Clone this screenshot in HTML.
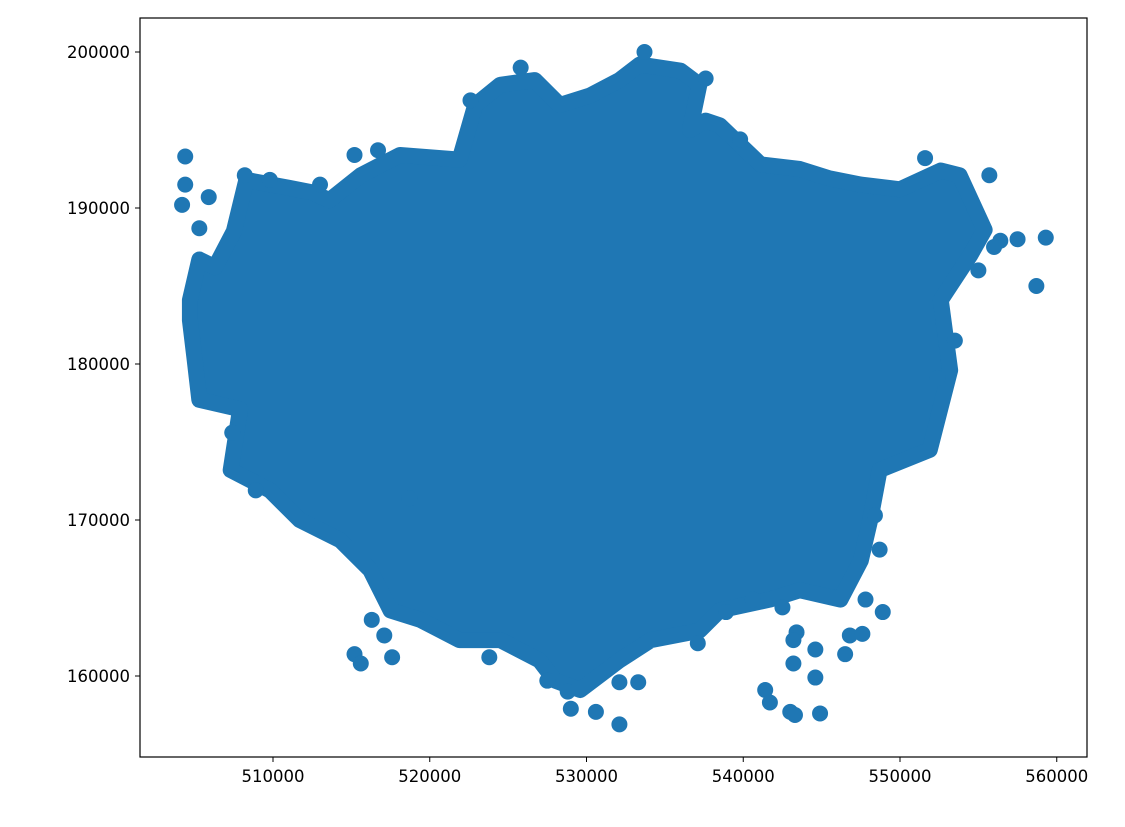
<!DOCTYPE html>
<html><head><meta charset="utf-8">
<style>
html,body{margin:0;padding:0;background:#fff;}
svg text{font-family:"DejaVu Sans","Liberation Sans",sans-serif;font-size:16.5px;fill:#000;}
</style></head>
<body>
<svg id="chart" width="1125" height="822" xmlns="http://www.w3.org/2000/svg">
<g id="marks"></g>
<rect x="140" y="18" width="947" height="739" fill="none" stroke="#000" stroke-width="1.2"/>
<g id="xaxis"></g>
<g id="yaxis"></g>
</svg>
<script>
const xTicks=[510000,520000,530000,540000,550000,560000];
const yTicks=[160000,170000,180000,190000,200000];
const blobX=[504700,505300,506300,507500,508300,511000,512500,513600,515600,518100,521900,522900,524500,526700,528300,530200,532100,533400,536000,537200,536600,537600,538500,541100,543600,545500,547500,550000,552600,553800,555400,554500,552600,553200,551900,548700,548100,547500,546200,543600,541700,538500,537200,534100,532100,529600,528000,527000,524500,521900,519400,517500,516200,514300,511700,509800,507300,507900,505300,505000,504700];
const blobY=[184100,186700,186200,188500,191800,191300,191000,190500,192100,193400,193100,196600,197900,198200,196600,197200,198200,199200,198800,197900,195000,195600,195300,192800,192500,191900,191500,191200,192400,192100,188600,187000,184100,179600,174500,173200,170000,167400,164900,165500,164900,164200,162900,162300,161000,159100,159700,161000,162300,162300,163600,164200,166800,168700,170000,171900,173200,177100,177700,180300,182800];
const ptX=[504400,504400,504200,505300,505900,508200,509800,513000,515200,516700,522600,525800,533700,537600,539800,551600,555700,556400,559300,558700,553500,552400,548400,548700,547800,546800,544600,543400,542500,540600,538900,537100,532100,533300,528800,529000,530600,532100,527500,523800,517600,515200,515600,517100,516300,507400,508900,518700,541400,541700,543000,543300,544900,544600,543200,543200,548900,547600,546500,555000,556000,557500];
const ptY=[193300,191500,190200,188700,190700,192100,191800,191500,193400,193700,196900,199000,200000,198300,194400,193200,192100,187900,188100,185000,181500,179100,170300,168100,164900,162600,161700,162800,164400,164900,164100,162100,159600,159600,159000,157900,157700,156900,159700,161200,161200,161400,160800,162600,163600,175600,171900,171400,159100,158300,157700,157500,157600,159900,160800,162300,164100,162700,161400,186000,187500,188000];
const NS="http://www.w3.org/2000/svg";
const sx=v=>273+(v-510000)*0.015675;
const sy=v=>676-(v-160000)*0.0156;
const C="#1f77b4";
const marks=document.getElementById('marks');
const poly=document.createElementNS(NS,'polygon');


poly.setAttribute('points',blobX.map((x,i)=>sx(x)+','+sy(blobY[i])).join(' '));
poly.setAttribute('fill',C);poly.setAttribute('stroke',C);
poly.setAttribute('stroke-width','16');poly.setAttribute('stroke-linejoin','round');
marks.appendChild(poly);
ptX.forEach((x,i)=>{
 const c=document.createElementNS(NS,'circle');
 
 
 c.setAttribute('cx',sx(x));c.setAttribute('cy',sy(ptY[i]));c.setAttribute('r',8);c.setAttribute('fill',C);
 marks.appendChild(c);
});
const xa=document.getElementById('xaxis');
xTicks.forEach(t=>{
 const l=document.createElementNS(NS,'line');
 
 
 l.setAttribute('x1',sx(t));l.setAttribute('x2',sx(t));l.setAttribute('y1',757);l.setAttribute('y2',762);l.setAttribute('stroke','#000');
 xa.appendChild(l);
 const tx=document.createElementNS(NS,'text');
 
 
 tx.setAttribute('x',sx(t));tx.setAttribute('y',782);tx.setAttribute('text-anchor','middle');tx.textContent=t;
 xa.appendChild(tx);
});
const ya=document.getElementById('yaxis');
yTicks.forEach(t=>{
 const l=document.createElementNS(NS,'line');
 
 
 l.setAttribute('x1',135);l.setAttribute('x2',140);l.setAttribute('y1',sy(t));l.setAttribute('y2',sy(t));l.setAttribute('stroke','#000');
 ya.appendChild(l);
 const tx=document.createElementNS(NS,'text');
 
 
 tx.setAttribute('x',130);tx.setAttribute('y',sy(t)+6);tx.setAttribute('text-anchor','end');tx.textContent=t;
 ya.appendChild(tx);
});
</script>
</body></html>
